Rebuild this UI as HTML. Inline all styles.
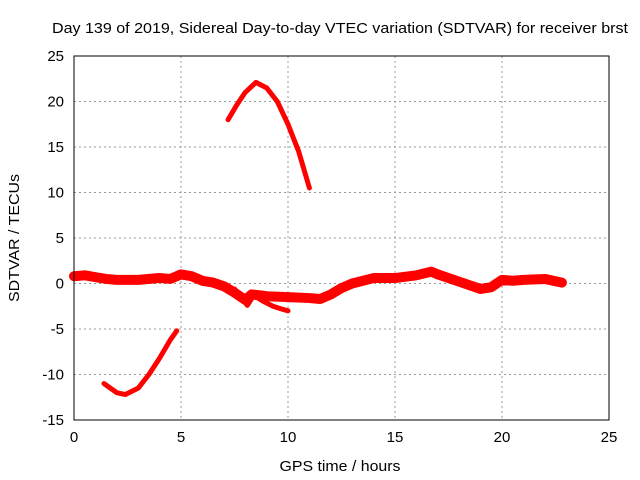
<!DOCTYPE html>
<html><head><meta charset="utf-8"><style>
body{margin:0;background:#fff}
svg{display:block;font-family:"Liberation Sans",sans-serif;font-size:14px}
</style></head><body>
<svg id="c" width="640" height="480">
<text x="340" y="33" text-anchor="middle" font-size="15" textLength="576" lengthAdjust="spacingAndGlyphs">Day 139 of 2019, Sidereal Day-to-day VTEC variation (SDTVAR) for receiver brst</text>
<text x="340" y="471" text-anchor="middle" font-size="15" textLength="121" lengthAdjust="spacingAndGlyphs">GPS time / hours</text>
<text transform="translate(19,238) rotate(-90)" text-anchor="middle" font-size="15" textLength="128" lengthAdjust="spacingAndGlyphs">SDTVAR / TECUs</text>
<g id="grid"></g><g id="series"></g>
<rect x="74" y="56" width="535" height="364" fill="none" stroke="#000" stroke-width="1"/>
</svg>
<script>
const xTicks=[0,5,10,15,20,25];
const yTicks=[-15,-10,-5,0,5,10,15,20,25];
const bandX=[0,0.5,1,1.5,2,3,4,4.5,5,5.5,6,6.5,7,7.5,8,8.3,8.7,9,10,11,11.5,12,12.5,13,14,15,16,16.7,17,18,19,19.5,20,20.5,21,22,22.8];
const bandY=[0.8,0.9,0.7,0.5,0.4,0.4,0.6,0.5,1.0,0.8,0.3,0.1,-0.3,-1.0,-1.8,-1.2,-1.3,-1.4,-1.5,-1.6,-1.7,-1.2,-0.5,0.0,0.6,0.6,0.9,1.3,1.0,0.2,-0.6,-0.4,0.4,0.3,0.4,0.5,0.1];
const dipX=[7.5,7.8,8.1,8.4,8.8,9.3,9.7,10];
const dipY=[-0.6,-1.5,-2.4,-1.3,-1.9,-2.5,-2.8,-3.0];
const arcX=[7.2,7.6,8,8.5,9,9.5,10,10.5,11];
const arcY=[18,19.6,21,22.1,21.5,20,17.5,14.5,10.5];
const lowX=[1.4,2,2.4,3,3.5,4,4.5,4.8];
const lowY=[-11,-12,-12.2,-11.5,-10,-8.2,-6.2,-5.2];
const X=v=>74+v*(535/25), Y=v=>420-(v+15)*(364/40);
const ns="http://www.w3.org/2000/svg";
const g=document.getElementById('grid'), s=document.getElementById('series');
function mk(p,tag,a){const e=document.createElementNS(ns,tag);for(const k in a)e.setAttribute(k,a[k]);p.appendChild(e);return e;}
xTicks.forEach(t=>{
 if(t>0&&t<25){const l=mk(g,'line',{x1:X(t),x2:X(t),y1:56,y2:420,stroke:'#999','stroke-dasharray':'2,3'});
 
 }
 const tx=mk(g,'text',{x:X(t),y:442,'text-anchor':'middle','font-size':15});tx.textContent=t;
 
 
});
yTicks.forEach(t=>{
 if(t>-15&&t<25){const l=mk(g,'line',{x1:74,x2:609,y1:Y(t),y2:Y(t),stroke:'#999','stroke-dasharray':'2,3'});
 
 }
 const tx=mk(g,'text',{x:64,y:Y(t)+5,'text-anchor':'end','font-size':15});tx.textContent=t;
 
 
});
function line(xs,ys,w,name){
 const p=mk(s,'polyline',{points:xs.map((x,i)=>X(x)+','+Y(ys[i])).join(' '),fill:'none',stroke:'#f00','stroke-width':w,'stroke-linejoin':'round','stroke-linecap':'round'});
 
 
}
line(bandX,bandY,10,'series-main-band');
line(dipX,dipY,5,'series-dip-strand');
line(arcX,arcY,5,'series-high-arc');
line(lowX,lowY,5,'series-low-arc');
</script>
</body></html>
